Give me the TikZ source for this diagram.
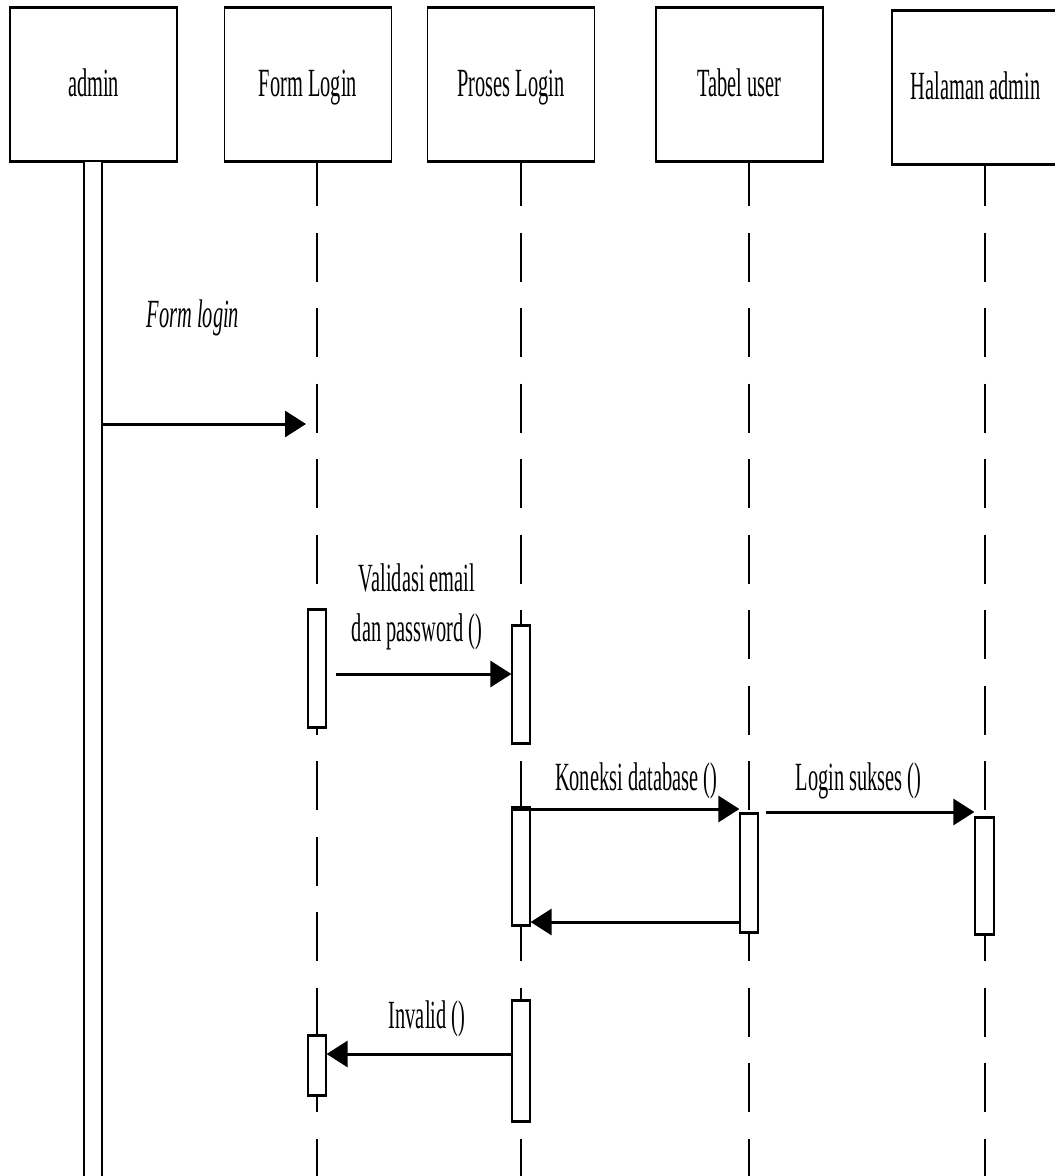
\documentclass[tikz,border=0pt]{standalone}
\usepackage{fontspec}
\setmainfont{Liberation Serif}[FakeStretch=0.51]
\usetikzlibrary{arrows.meta}
\begin{document}
\begin{tikzpicture}[x=1pt,y=-1pt,
  every node/.style={font=\fontsize{40pt}{50pt}\selectfont},
  obj/.style={draw, line width=1.3pt, fill=white, minimum width=167pt,
    minimum height=153pt, inner sep=0pt, text height=27pt, text depth=4pt},
  life/.style={line width=1.2pt, dash pattern=on 49pt off 26.5pt},
  bar/.style={draw, line width=1.2pt, fill=white, minimum width=18pt, inner sep=0pt},
  thickedge/.style={line width=2.6pt},
  msg/.style={line width=3pt, -{Triangle[length=21pt,width=26pt]}},
  lbl/.style={inner sep=0pt, anchor=base}
]
\useasboundingbox (0,0) rectangle (1055,1176);
\clip (0,0) rectangle (1055,1176);

% object boxes
\node[obj] (admin)   at (93.5,84.5)  {admin};
\node[obj] (form)    at (308,84.5)   {Form Login};
\node[obj] (proses)  at (511,84.5)   {Proses Login};
\node[obj] (tabel)   at (739.5,84.5) {Tabel user};
\node[obj] (halaman) at (975.5,87.5) {Halaman admin};
\foreach \n in {admin,form,proses,tabel,halaman}
  \draw[thickedge] (\n.north west) -- (\n.north east) (\n.south west) -- (\n.south east);

% lifelines
\coordinate (formx)   at (317,1176);
\coordinate (prosesx) at (521,1176);
\coordinate (tabelx)  at (749,1176);
\coordinate (halx)    at (985,1176);
\draw[life, dash phase=4.5pt] (form.south -| formx) -- (formx);
\draw[life, dash phase=4.5pt] (proses.south -| prosesx) -- (prosesx);
\draw[life, dash phase=4.5pt] (tabel.south -| tabelx) -- (tabelx);
\draw[life, dash phase=7.5pt] (halaman.south -| halx) -- (halx);

% activation bars
\node[bar, minimum height=1020pt] (adminbar) at (93,671) {};
\node[bar, minimum height=117pt] (fl1) at (317,668.5) {};
\node[bar, minimum height=117pt] (pl1) at (521,684.5) {};
\node[bar, minimum height=117pt] (pl2) at (521,866.5) {};
\node[bar, minimum height=118pt] (tu)  at (749,873) {};
\node[bar, minimum height=116pt, minimum width=19pt] (ha) at (984.5,876) {};
\node[bar, minimum height=59pt]  (fl2) at (317,1065.5) {};
\node[bar, minimum height=120pt] (pl3) at (521,1061) {};
\foreach \n in {fl1,pl1,pl2,tu,ha,fl2,pl3}
  \draw[thickedge] (\n.north west) -- (\n.north east) (\n.south west) -- (\n.south east);

% message levels
\coordinate (m1) at (0,424);
\coordinate (m2) at (0,674);
\coordinate (m3) at (0,809);
\coordinate (m4) at (0,812);
\coordinate (m5) at (0,922);
\coordinate (m6) at (0,1054);

% messages
\draw[msg, shorten >=11pt] (adminbar.east |- m1) -- (formx |- m1);
\draw[msg, shorten <=9pt] (fl1.east |- m2) -- (pl1.west |- m2);
\draw[msg] (pl2.west |- m3) -- (tu.west |- m3);
\draw[msg, shorten <=7pt] (tu.east |- m4) -- (ha.west |- m4);
\draw[msg] (tu.west |- m5) -- (pl2.east |- m5);
\draw[msg] (pl3.west |- m6) -- (fl2.east |- m6);

% message labels
\node[lbl] (lformlogin) at (193,327) {\itshape Form login};
\node[inner sep=0pt, align=center, anchor=south] (lvalidasi) at (417,650.5)
  {Validasi email\\dan password ()};
\node[lbl] (lkoneksi) at (636,790) {Koneksi database ()};
\node[lbl] (lsukses)  at (858.5,790) {Login sukses ()};
\node[lbl] (linvalid) at (427,1028) {Invalid ()};
\end{tikzpicture}
\end{document}
